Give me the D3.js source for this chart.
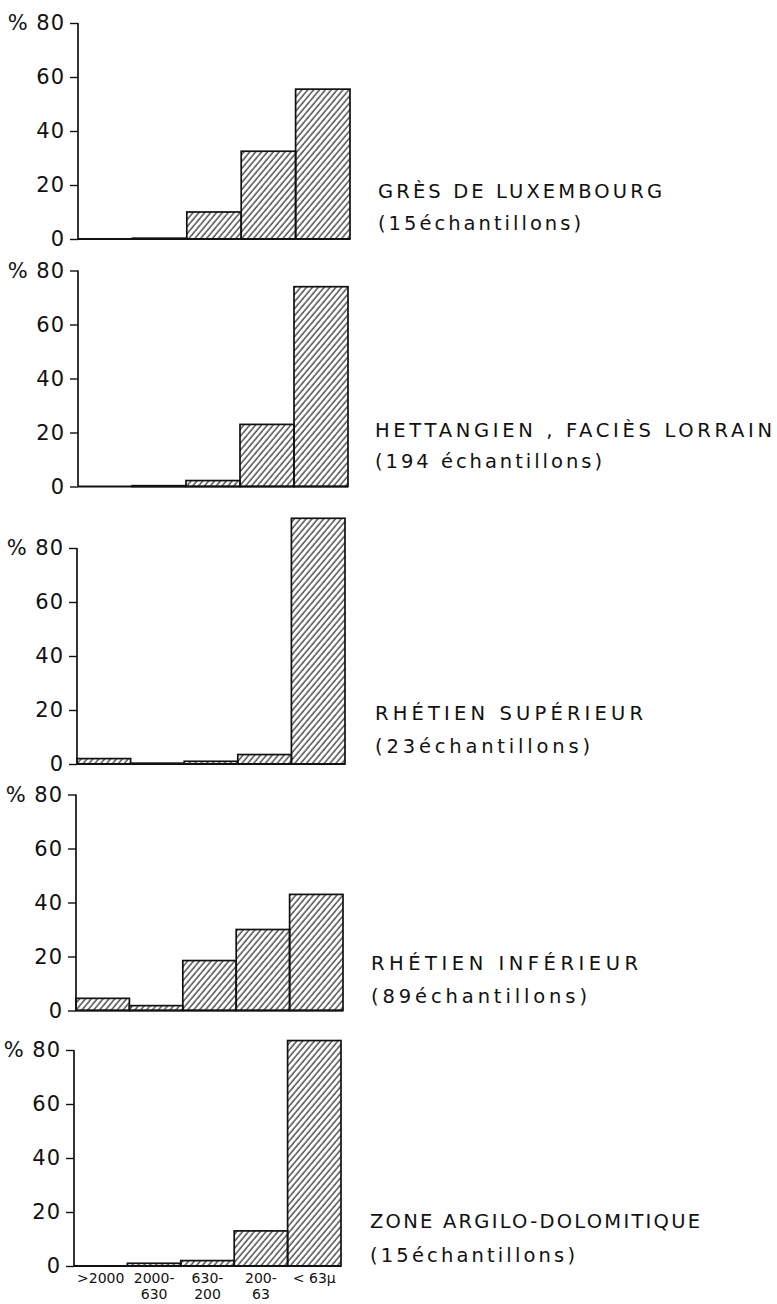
<!DOCTYPE html>
<html>
<head>
<meta charset="utf-8">
<script src="https://cdn.jsdelivr.net/npm/d3@7"></script>
<style>
  body { margin: 0; background: #fff; }
  svg text { font-family: "DejaVu Sans", sans-serif; fill: #111; }
</style>
</head>
<body>
<div id="chart"></div>
<script>
// grain size classes (microns)
var categories = [">2000", "2000-630", "630-200", "200-63", "<63µ"];
var categoryLines = [[">2000"], ["2000-", "630"], ["630-", "200"], ["200-", "63"], ["< 63µ"]];
var yTicks = [0, 20, 40, 60, 80];

var panelNames = ["GRÈS DE LUXEMBOURG", "HETTANGIEN , FACIÈS LORRAIN", "RHÉTIEN SUPÉRIEUR", "RHÉTIEN INFÉRIEUR", "ZONE ARGILO-DOLOMITIQUE"];
var panelCounts = ["(15échantillons)", "(194 échantillons)", "(23échantillons)", "(89échantillons)", "(15échantillons)"];

// % per class
var gresLuxembourg = [0, 0.3, 10, 32.5, 55.5];
var hettangien = [0, 0.3, 2.2, 23, 74];
var rhetienSuperieur = [2, 0.3, 1, 3.5, 91];
var rhetienInferieur = [4.5, 1.8, 18.5, 30, 43];
var zoneArgiloDolomitique = [0, 1, 2, 13, 83.5];

var series = [gresLuxembourg, hettangien, rhetienSuperieur, rhetienInferieur, zoneArgiloDolomitique];

// layout (scan is slightly tilted, so each panel has its own frame)
var width = 777, height = 1304;
var baseY = [239, 486.5, 764, 1010.5, 1266];
var leftX = [78, 78, 77, 76, 74];
var rightX = [350, 348, 345, 343, 341];
var plotH = 216;
var titleX = [378, 375, 375, 371, 370];
var titleY = [198, 437, 720, 970, 1228];
var subY = [230, 468, 753, 1003, 1262];
var titleW = [284, 397, 268, 267, 330];
var subW = [203, 227, 215, 216, 205];

var svg = d3.select("#chart").append("svg")
  .attr("width", width)
  .attr("height", height);

var defs = svg.append("defs");
defs.append("pattern")
  .attr("id", "hatch")
  .attr("patternUnits", "userSpaceOnUse")
  .attr("width", 4.5)
  .attr("height", 10)
  .attr("patternTransform", "rotate(40)")
  .append("line")
  .attr("x1", 1).attr("y1", 0)
  .attr("x2", 1).attr("y2", 10)
  .attr("stroke", "#111")
  .attr("stroke-width", 1.1);

series.forEach(function(values, p) {
  var x = d3.scaleBand()
    .domain(categories)
    .range([leftX[p], rightX[p]])
    .padding(0);

  var y = d3.scaleLinear()
    .domain([0, 80])
    .range([baseY[p], baseY[p] - plotH]);

  var g = svg.append("g").attr("class", "panel");

  // bars
  g.selectAll("rect.bar")
    .data(values)
    .enter()
    .append("rect")
    .attr("class", "bar")
    .attr("x", function(d, i) { return x(categories[i]); })
    .attr("width", x.bandwidth())
    .attr("y", function(d) { return y(d); })
    .attr("height", function(d) { return y(0) - y(d); })
    .attr("fill", "url(#hatch)")
    .attr("stroke", "#111")
    .attr("stroke-width", 1.7)
    .attr("display", function(d) { return d > 0 ? null : "none"; });

  // y axis
  var axis = g.append("g")
    .attr("transform", "translate(" + leftX[p] + ",0)")
    .call(d3.axisLeft(y).tickValues(yTicks).tickSize(8).tickPadding(5)
      .tickFormat(function(d) { return d === 80 ? "% 80" : d; }));
  axis.select(".domain").attr("stroke", "#111").attr("stroke-width", 1.7)
    .attr("d", "M0," + y(80) + "V" + y(0));
  axis.selectAll(".tick line").attr("stroke", "#111").attr("stroke-width", 1.4);
  axis.selectAll(".tick text")
    .attr("font-size", 21)
    .attr("fill", "#111")
    .attr("font-family", "DejaVu Sans, sans-serif")
    .attr("letter-spacing", 1)
    .style("white-space", "pre");

  // baseline
  g.append("line")
    .attr("x1", leftX[p]).attr("x2", rightX[p])
    .attr("y1", y(0)).attr("y2", y(0))
    .attr("stroke", "#111").attr("stroke-width", 1.9);

  // titles
  g.append("text")
    .attr("x", titleX[p]).attr("y", titleY[p])
    .attr("font-size", 19.5)
    .attr("textLength", titleW[p])
    .attr("lengthAdjust", "spacing")
    .text(panelNames[p]);
  g.append("text")
    .attr("x", titleX[p]).attr("y", subY[p])
    .attr("font-size", 19.5)
    .attr("textLength", subW[p])
    .attr("lengthAdjust", "spacing")
    .text(panelCounts[p]);

  // class labels under the last panel
  if (p === series.length - 1) {
    var lab = g.selectAll("text.cat")
      .data(categoryLines)
      .enter()
      .append("text")
      .attr("class", "cat")
      .attr("text-anchor", "middle")
      .attr("font-size", 14)
      .attr("transform", function(d, i) {
        return "translate(" + (x(categories[i]) + x.bandwidth() / 2) + "," + (y(0) + 17) + ")";
      });
    lab.selectAll("tspan")
      .data(function(d) { return d; })
      .enter()
      .append("tspan")
      .attr("x", 0)
      .attr("dy", function(d, i) { return i === 0 ? 0 : 16; })
      .text(function(d) { return d; });
  }
});
</script>
</body>
</html>
